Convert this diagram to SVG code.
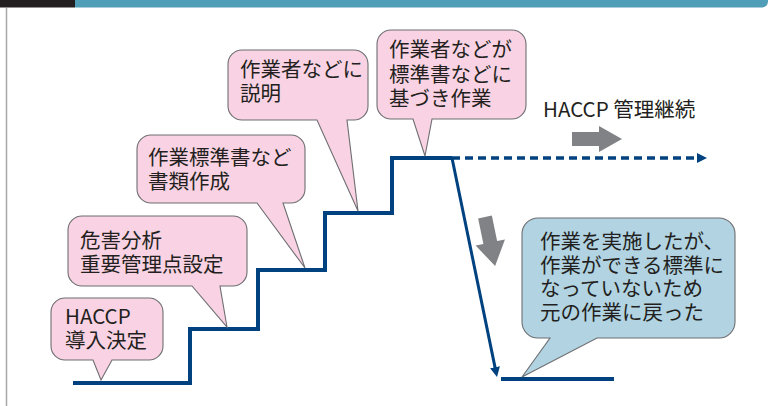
<svg xmlns="http://www.w3.org/2000/svg" width="772" height="406" viewBox="0 0 772 406">
<defs>
<style>
.pink{fill:#f9d3e3;stroke:#6d6e71;stroke-width:1.1}
.blue{fill:#b1d3e2;stroke:#6d6e71;stroke-width:1.1}
.t{font-family:"Noto Sans CJK JP","Noto Sans",sans-serif;font-size:20.5px;fill:#231f20}
.line{fill:none;stroke:#00427f;stroke-linejoin:miter}
.garrow{fill:#808285}
</style>
<marker id="ah" viewBox="0 0 10 10" refX="3" refY="5" markerWidth="10" markerHeight="10" markerUnits="userSpaceOnUse" orient="auto">
<path d="M0,0 L10,5 L0,10 Z" fill="#00427f"/>
</marker>
</defs>
<rect width="772" height="406" fill="#ffffff"/>
<g id="header">
<rect x="0" y="0" width="75" height="7.5" fill="#231f20"/>
<path d="M75,0 H768 V1.5 A6 6 0 0 1 762,7.5 H75 Z" fill="#509db8"/>
</g>
<line x1="6.5" y1="8" x2="6.5" y2="406" stroke="#a7a9ac" stroke-width="1.5"/>
<g id="connectors">
<polyline class="line" stroke-width="4" points="73,383 190,383 190,329 258,329 258,270 325,270 325,213 392,213 392,158 452,158"/>
<line class="line" stroke-width="3.5" stroke-dasharray="8,5" x1="452" y1="158" x2="700" y2="158" marker-end="url(#ah)"/>
<line class="line" stroke-width="3" x1="452" y1="158" x2="495.6" y2="370.1" marker-end="url(#ah)"/>
<line class="line" stroke-width="4" x1="501" y1="379" x2="614" y2="379"/>
</g>
<g id="trend-arrows">
<path class="garrow" d="M572,132 H599 V126 L622,139 L599,152 V146 H572 Z"/>
<path class="garrow" transform="translate(485,217) rotate(-11.7)" d="M-7,0 H7 V26 H15 L0,50 L-15,26 H-7 Z"/>
<text class="t" x="543" y="117" font-size="20">HACCP 管理継続</text>
</g>
<g id="step1">
<path class="pink" d="M65,298 H149 A14 14 0 0 1 163,312 V346 A14 14 0 0 1 149,360 H112 L101,380 L93,360 H65 A14 14 0 0 1 51,346 V312 A14 14 0 0 1 65,298 Z"/>
<text class="t" x="65" y="324">HACCP<tspan x="65" dy="24">導入決定</tspan></text>
</g>
<g id="step2">
<path class="pink" d="M82,216 H233 A14 14 0 0 1 247,230 V272 A14 14 0 0 1 233,286 H220 L227,327 L192,286 H82 A14 14 0 0 1 68,272 V230 A14 14 0 0 1 82,216 Z"/>
<text class="t" x="80" y="248">危害分析<tspan x="80" dy="24">重要管理点設定</tspan></text>
</g>
<g id="step3">
<path class="pink" d="M151,135 H291 A14 14 0 0 1 305,149 V189 A14 14 0 0 1 291,203 H283 L305,268 L257,203 H151 A14 14 0 0 1 137,189 V149 A14 14 0 0 1 151,135 Z"/>
<text class="t" x="148" y="165">作業標準書など<tspan x="148" dy="24">書類作成</tspan></text>
</g>
<g id="step4">
<path class="pink" d="M242,50 H354 A14 14 0 0 1 368,64 V106 A14 14 0 0 1 354,120 H347 L358,211 L317,120 H242 A14 14 0 0 1 228,106 V64 A14 14 0 0 1 242,50 Z"/>
<text class="t" x="240" y="77">作業者などに<tspan x="240" dy="24">説明</tspan></text>
</g>
<g id="step5">
<path class="pink" d="M391,30 H512 A14 14 0 0 1 526,44 V105 A14 14 0 0 1 512,119 H432 L425,156 L413,119 H391 A14 14 0 0 1 377,105 V44 A14 14 0 0 1 391,30 Z"/>
<text class="t" x="389" y="57">作業者などが<tspan x="389" dy="24.5">標準書などに</tspan><tspan x="389" dy="24.5">基づき作業</tspan></text>
</g>
<g id="fallback">
<path class="blue" d="M538,218 H719 A16 16 0 0 1 735,234 V322 A16 16 0 0 1 719,338 H597 L522,377 L550,338 H538 A16 16 0 0 1 522,322 V234 A16 16 0 0 1 538,218 Z"/>
<text class="t" x="540" y="249" font-size="20">作業を実施したが、<tspan x="540" dy="23.7">作業ができる標準に</tspan><tspan x="540" dy="23.7">なっていないため</tspan><tspan x="540" dy="23.7">元の作業に戻った</tspan></text>
</g>
</svg>
